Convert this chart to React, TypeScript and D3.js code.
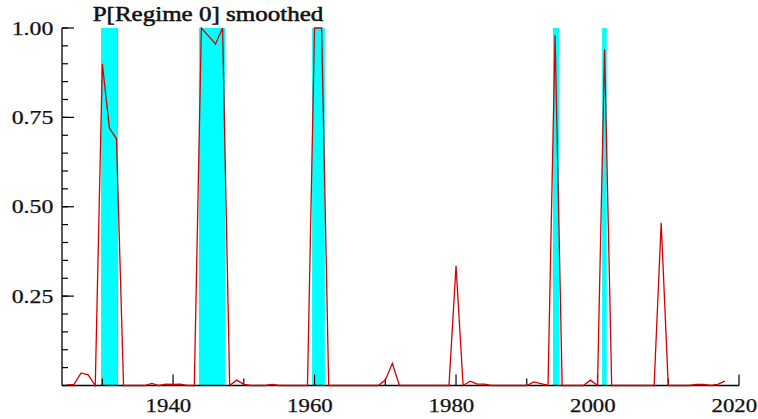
import React from "react";
import * as d3 from "d3";

// ---- data ----
const years = [
  1925, 1926, 1927, 1928, 1929, 1930, 1931, 1932, 1933, 1934,
  1935, 1936, 1937, 1938, 1939, 1940, 1941, 1942, 1943, 1944,
  1945, 1946, 1947, 1948, 1949, 1950, 1951, 1952, 1953, 1954,
  1955, 1956, 1957, 1958, 1959, 1960, 1961, 1962, 1963, 1964,
  1965, 1966, 1967, 1968, 1969, 1970, 1971, 1972, 1973, 1974,
  1975, 1976, 1977, 1978, 1979, 1980, 1981, 1982, 1983, 1984,
  1985, 1986, 1987, 1988, 1989, 1990, 1991, 1992, 1993, 1994,
  1995, 1996, 1997, 1998, 1999, 2000, 2001, 2002, 2003, 2004,
  2005, 2006, 2007, 2008, 2009, 2010, 2011, 2012, 2013, 2014,
  2015, 2016, 2017, 2018,
];

const probSmoothed = [
  0.002, 0.003, 0.035, 0.03, 0.0, 0.9, 0.72, 0.69, 0.0, 0.0,
  0.0, 0.0, 0.006, 0.0, 0.004, 0.003, 0.004, 0.0, 0.0, 1.0,
  0.978, 0.955, 1.0, 0.0, 0.015, 0.003, 0.0, 0.0, 0.0, 0.003,
  0.0, 0.0, 0.0, 0.0, 0.0, 1.0, 1.0, 0.0, 0.0, 0.0,
  0.0, 0.0, 0.0, 0.0, 0.0, 0.015, 0.062, 0.0, 0.0, 0.0,
  0.0, 0.0, 0.0, 0.0, 0.0, 0.335, 0.0, 0.012, 0.004, 0.004,
  0.0, 0.0, 0.0, 0.0, 0.0, 0.0, 0.01, 0.005, 0.0, 0.98,
  0.0, 0.0, 0.0, 0.0, 0.015, 0.0, 0.94, 0.0, 0.0, 0.0,
  0.0, 0.0, 0.0, 0.0, 0.455, 0.0, 0.0, 0.0, 0.0, 0.003,
  0.003, 0.0, 0.003, 0.012,
];

// regime-0 classified periods (shaded)
const bandStart = [1929.82, 1943.65, 1959.65, 1993.7, 2000.65];
const bandEnd = [1932.23, 1947.35, 1961.45, 1994.58, 2001.3];

const xTickMajor = [1940, 1960, 1980, 2000, 2020];
const xTickMinor = [1930, 1950, 1970, 1990, 2010];
const yTickMajor = [0, 0.25, 0.5, 0.75, 1.0];
const yTickLabels = ["0", "0.25", "0.50", "0.75", "1.00"];
const yTickMinor = d3.range(0, 1.0001, 0.05);

const title = "P[Regime 0] smoothed";

export default function App() {
  const W = 758;
  const H = 419;
  const x = d3.scaleLinear().domain([1924.3, 2020]).range([62, 739]);
  const y = d3.scaleLinear().domain([0, 1]).range([385.5, 28]);

  const pts = years.map((yr, i) => [yr, probSmoothed[i]] as [number, number]);
  const line = d3
    .line<[number, number]>()
    .x((d) => x(d[0]))
    .y((d) => y(d[1]));

  const font = "'Liberation Serif', 'Times New Roman', serif";

  return (
    <svg
      width={W}
      height={H}
      style={{ position: "absolute", left: 0, top: 0, background: "#fff" }}
    >
      <rect x={0} y={0} width={W} height={H} fill="#fff" />
      {/* bands */}
      {bandStart.map((s, i) => (
        <rect
          key={"b" + i}
          x={x(s)}
          y={y(1)}
          width={x(bandEnd[i]) - x(s)}
          height={y(0) - y(1)}
          fill="#00ffff"
        />
      ))}
      {/* axes */}
      <line x1={62} x2={62} y1={y(1)} y2={y(0)} stroke="#000" strokeWidth={1.3} />
      <line x1={62} x2={739} y1={y(0)} y2={y(0)} stroke="#000" strokeWidth={1.3} />
      {yTickMinor.map((v, i) => (
        <line key={"ym" + i} x1={62} x2={68} y1={y(v)} y2={y(v)} stroke="#000" strokeWidth={1.2} />
      ))}
      {yTickMajor.map((v, i) => (
        <line key={"yM" + i} x1={62} x2={74} y1={y(v)} y2={y(v)} stroke="#000" strokeWidth={1.2} />
      ))}
      {xTickMinor.map((v, i) => (
        <line key={"xm" + i} x1={x(v)} x2={x(v)} y1={y(0)} y2={y(0) - 7} stroke="#000" strokeWidth={1.2} />
      ))}
      {xTickMajor.map((v, i) => (
        <line key={"xM" + i} x1={x(v)} x2={x(v)} y1={y(0)} y2={y(0) - 11} stroke="#000" strokeWidth={1.2} />
      ))}
      {/* data line */}
      <path d={line(pts) || ""} fill="none" stroke="#d40000" strokeWidth={1.3} strokeLinejoin="miter" />
      {/* y labels */}
      {yTickMajor.map((v, i) =>
        v === 0 ? null : (
          <text
            key={"yl" + i}
            x={11.7}
            y={y(v) + 6.5}
            fontFamily={font}
            fontSize={19}
            textLength={41.7}
            lengthAdjust="spacingAndGlyphs"
            fill="#111"
            stroke="#111"
            strokeWidth={0.25}
          >
            {yTickLabels[i]}
          </text>
        )
      )}
      {/* x labels */}
      {xTickMajor.map((v, i) => (
        <text
          key={"xl" + i}
          x={x(v) - 27.5}
          y={411.5}
          fontFamily={font}
          fontSize={19}
          textLength={45.7}
          lengthAdjust="spacingAndGlyphs"
          fill="#111"
          stroke="#111"
          strokeWidth={0.25}
        >
          {String(v)}
        </text>
      ))}
      <text
        x={92.7}
        y={20.7}
        fontFamily={font}
        fontSize={20}
        textLength={230.6}
        lengthAdjust="spacingAndGlyphs"
        fill="#111"
        stroke="#111"
        strokeWidth={0.5}
      >
        {title}
      </text>
    </svg>
  );
}
